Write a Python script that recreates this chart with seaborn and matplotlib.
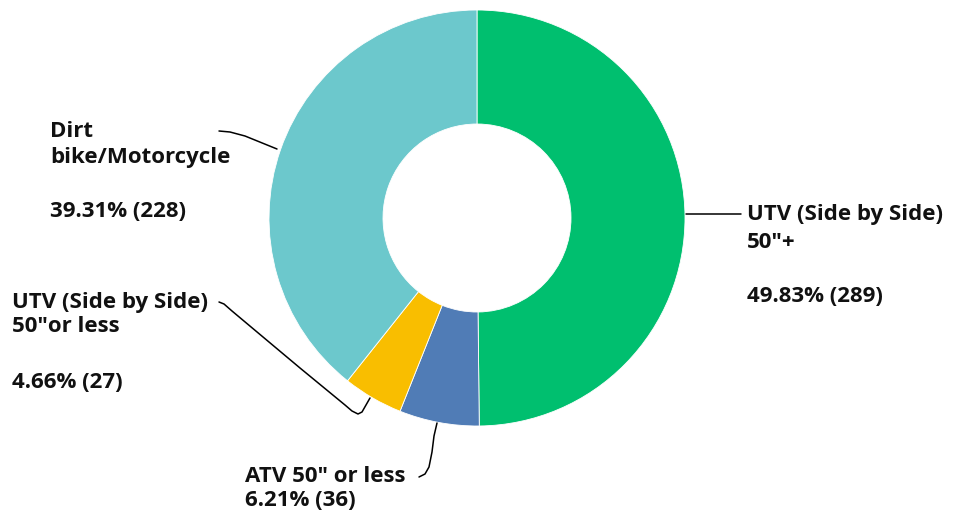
import matplotlib
matplotlib.use("Agg")

import matplotlib.pyplot as plt
import seaborn as sns

# slice data, clockwise from 12 o'clock
categories = ['UTV (Side by Side)\n50″+', 'ATV 50″ or less',
              'UTV (Side by Side)\n50″or less', 'Dirt\nbike/Motorcycle']
percents = [49.83, 6.21, 4.66, 39.31]
counts = [289, 36, 27, 228]
colors = ['#00BF6F', '#507CB6', '#F9BE00', '#6CC8CC']

sns.set_style('white')
plt.rcParams['font.family'] = ['Open Sans', 'DejaVu Sans']

W, H = 956, 519
CX, CY, R = 477, 218, 208  # pixel centre / radius of the donut


def px(x, y):
    # pixel coords -> data coords (1 unit = donut radius)
    return (x - CX) / R, (CY - y) / R


fig = plt.figure(figsize=(W / 100, H / 100), dpi=100)
ax = fig.add_axes([0, 0, 1, 1])
ax.pie(percents, colors=colors, startangle=90, counterclock=False,
       radius=1, wedgeprops=dict(width=1 - 94 / R, edgecolor='white', linewidth=0.6))
ax.set_xlim(px(0, 0)[0], px(W, 0)[0])
ax.set_ylim(px(0, H)[1], px(0, 0)[1])
ax.set_aspect('equal')
ax.axis('off')

txt = dict(fontsize=16, fontweight='bold', color='#111111', va='center', ha='left')


def label(x, lines_y, idx):
    names = categories[idx].split('\n')
    for name, y in zip(names, lines_y[:len(names)]):
        ax.text(*px(x, y), name, **txt)
    ax.text(*px(x, lines_y[-1]), f'{percents[idx]:.2f}% ({counts[idx]})', **txt)


def leader(pts):
    xs, ys = zip(*[px(x, y) for x, y in pts])
    ax.plot(xs, ys, color='black', linewidth=1.1, solid_capstyle='round')


label(747, [214, 242, 296], 0)
leader([(686, 214), (741, 214)])

label(245, [476, 501], 1)
leader([(419, 477), (425, 474), (429, 467), (432, 452), (434, 436), (437, 423)])

label(12, [302, 327, 382], 2)
leader([(219, 302), (224, 304), (232, 311), (300, 368), (345, 405),
        (352, 411), (358, 414), (362, 412), (366, 405), (370, 398)])

label(50, [131, 157, 211], 3)
leader([(219, 131), (230, 132), (245, 136), (277, 149)])

fig.savefig('out.png', dpi=100)
